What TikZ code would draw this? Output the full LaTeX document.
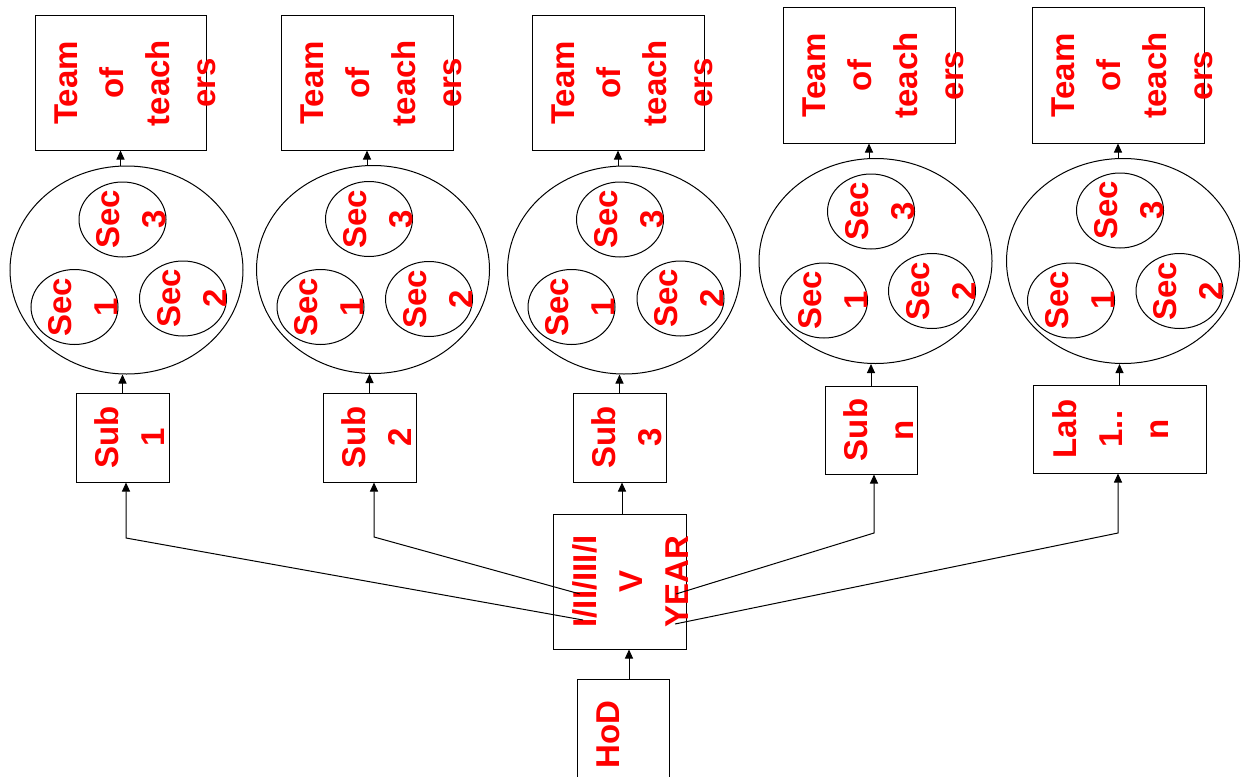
\documentclass[tikz,border=0pt]{standalone}
\usepackage{fontspec}
\setmainfont{Liberation Sans}
\usetikzlibrary{shapes.geometric, arrows.meta}
\tikzstyle{box} = [rectangle, draw=black, line width=1pt, inner sep=0pt]
\tikzstyle{outer} = [ellipse, draw=black, line width=1pt, minimum width=233pt, inner sep=0pt]
\tikzstyle{sec} = [ellipse, draw=black, line width=1pt, minimum width=87pt, minimum height=75pt, inner sep=0pt]
\tikzstyle{txt} = [rotate=90, anchor=north, inner sep=0pt, align=center, text=red, font=\fontsize{33}{46}\selectfont\bfseries]
\tikzstyle{arrow} = [line width=1pt, -{Triangle[length=9pt, width=8pt]}]

\begin{document}
\begin{tikzpicture}[x=1pt, y=-1pt]
    \useasboundingbox (0,0) rectangle (1246,776);

    % teams of teachers
    \node (team1) [box, minimum width=171pt, minimum height=134pt] at (120.5,83) {};
    \node (team2) [box, minimum width=172pt, minimum height=134pt] at (367,83) {};
    \node (team3) [box, minimum width=172pt, minimum height=134pt] at (618,83) {};
    \node (team4) [box, minimum width=172pt, minimum height=135pt] at (869,75.5) {};
    \node (team5) [box, minimum width=172pt, minimum height=135pt] at (1118,75.5) {};
    \node (tteam1) [txt] at ([xshift=20pt]team1.west) {Team\\of\\teach\\ers};
    \node (tteam2) [txt] at ([xshift=20pt]team2.west) {Team\\of\\teach\\ers};
    \node (tteam3) [txt] at ([xshift=20pt]team3.west) {Team\\of\\teach\\ers};
    \node (tteam4) [txt] at ([xshift=20pt]team4.west) {Team\\of\\teach\\ers};
    \node (tteam5) [txt] at ([xshift=20pt]team5.west) {Team\\of\\teach\\ers};

    % sections
    \node (ell1) [outer, minimum height=208pt] at (126.5,270) {};
    \node (ell2) [outer, minimum height=208pt] at (373,269.5) {};
    \node (ell3) [outer, minimum height=208pt] at (624,270) {};
    \node (ell4) [outer, minimum height=205pt] at (875.5,261) {};
    \node (ell5) [outer, minimum height=205pt] at (1123,261) {};

    \node (sec11) [sec] at (74.5,307) {};
    \node (sec12) [sec] at (183,298.5) {};
    \node (sec13) [sec] at (122.5,219.5) {};
    \node (sec21) [sec] at (320.5,307) {};
    \node (sec22) [sec] at (429,299) {};
    \node (sec23) [sec] at (369,219) {};
    \node (sec31) [sec] at (571.5,307) {};
    \node (sec32) [sec] at (680.5,298.5) {};
    \node (sec33) [sec] at (620,219.5) {};
    \node (sec41) [sec] at (824,300.5) {};
    \node (sec42) [sec] at (932,291) {};
    \node (sec43) [sec] at (871,211.5) {};
    \node (sec51) [sec] at (1071,300.5) {};
    \node (sec52) [sec] at (1179.5,291) {};
    \node (sec53) [sec] at (1120,210.5) {};

    \node (tsec11) [txt] at ([xshift=18pt]sec11.west) {Sec\\1};
    \node (tsec12) [txt] at ([xshift=18pt]sec12.west) {Sec\\2};
    \node (tsec13) [txt] at ([xshift=18pt]sec13.west) {Sec\\3};
    \node (tsec21) [txt] at ([xshift=18pt]sec21.west) {Sec\\1};
    \node (tsec22) [txt] at ([xshift=18pt]sec22.west) {Sec\\2};
    \node (tsec23) [txt] at ([xshift=18pt]sec23.west) {Sec\\3};
    \node (tsec31) [txt] at ([xshift=18pt]sec31.west) {Sec\\1};
    \node (tsec32) [txt] at ([xshift=18pt]sec32.west) {Sec\\2};
    \node (tsec33) [txt] at ([xshift=18pt]sec33.west) {Sec\\3};
    \node (tsec41) [txt] at ([xshift=18pt]sec41.west) {Sec\\1};
    \node (tsec42) [txt] at ([xshift=18pt]sec42.west) {Sec\\2};
    \node (tsec43) [txt] at ([xshift=18pt]sec43.west) {Sec\\3};
    \node (tsec51) [txt] at ([xshift=18pt]sec51.west) {Sec\\1};
    \node (tsec52) [txt] at ([xshift=18pt]sec52.west) {Sec\\2};
    \node (tsec53) [txt] at ([xshift=18pt]sec53.west) {Sec\\3};

    % subjects
    \node (sub1) [box, minimum width=93pt, minimum height=89pt] at (122.5,437.5) {};
    \node (sub2) [box, minimum width=93pt, minimum height=89pt] at (369.5,437.5) {};
    \node (sub3) [box, minimum width=93pt, minimum height=89pt] at (619.5,437.5) {};
    \node (sub4) [box, minimum width=92pt, minimum height=88pt] at (871,430) {};
    \node (sub5) [box, minimum width=173pt, minimum height=88pt] at (1119.5,429) {};
    \node (tsub1) [txt] at ([xshift=19pt]sub1.west) {Sub\\1};
    \node (tsub2) [txt] at ([xshift=19pt]sub2.west) {Sub\\2};
    \node (tsub3) [txt] at ([xshift=19pt]sub3.west) {Sub\\3};
    \node (tsub4) [txt] at ([xshift=19pt]sub4.west) {Sub\\n};
    \node (tsub5) [txt] at ([xshift=20pt]sub5.west) {Lab\\1..\\n};

    % year and HoD
    \node (year) [box, minimum width=133pt, minimum height=135pt] at (619.5,581.5) {};
    \node (tyear) [txt] at ([xshift=20pt]year.west) {I/II/III/I\\V\\YEAR};
    \node (hod) [box, minimum width=92pt, minimum height=111pt] at (623,734.5) {};
    \node (thod) [txt] at ([xshift=20pt]hod.west) {HoD};

    \coordinate (from1) at (583,620);
    \coordinate (from2) at (580,594);
    \coordinate (from4) at (676,594);
    \coordinate (from5) at (675,624);
    \coordinate (bend1) at (126,538);
    \coordinate (bend2) at (374,537);
    \coordinate (bend4) at (874,533);
    \coordinate (bend5) at (1118,533);

    \draw [arrow] (from1) -- (bend1) -- (bend1 |- sub1.south);
    \draw [arrow] (from2) -- (bend2) -- (bend2 |- sub2.south);
    \draw [arrow] ([xshift=2.5pt]year.north) -- ([xshift=2.5pt]year.north |- sub3.south);
    \draw [arrow] (from4) -- (bend4) -- (bend4 |- sub4.south);
    \draw [arrow] (from5) -- (bend5) -- (bend5 |- sub5.south);
    \draw [arrow] ([xshift=6pt]hod.north) -- ([xshift=6pt]hod.north |- year.south);

    \draw [arrow] (sub1.north) -- (sub1.north |- ell1.south);
    \draw [arrow] (sub2.north) -- (sub2.north |- ell2.south);
    \draw [arrow] (sub3.north) -- (sub3.north |- ell3.south);
    \draw [arrow] (sub4.north) -- (sub4.north |- ell4.south);
    \draw [arrow] (sub5.north) -- (sub5.north |- ell5.south);

    \draw [arrow] (team1.south |- ell1.north) -- (team1.south);
    \draw [arrow] (team2.south |- ell2.north) -- (team2.south);
    \draw [arrow] (team3.south |- ell3.north) -- (team3.south);
    \draw [arrow] (team4.south |- ell4.north) -- (team4.south);
    \draw [arrow] (team5.south |- ell5.north) -- (team5.south);
\end{tikzpicture}
\end{document}
